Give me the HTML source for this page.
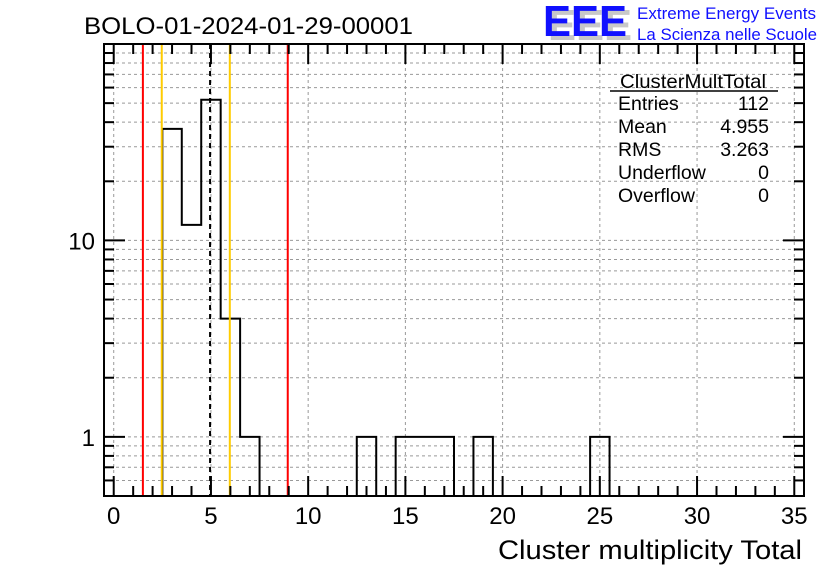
<!DOCTYPE html>
<html><head><meta charset="utf-8"><style>
html,body{margin:0;padding:0;background:#fff;}
svg{display:block;font-family:"Liberation Sans",sans-serif;}
</style></head><body>
<svg id="c" width="836" height="572" viewBox="0 0 836 572">
<text x="84" y="34" font-size="24" textLength="329" lengthAdjust="spacingAndGlyphs">BOLO-01-2024-01-29-00001</text>
<g>
<text x="548" y="40" font-size="44" font-weight="bold" fill="#c8c8c8" textLength="84" lengthAdjust="spacingAndGlyphs">EEE</text>
<text x="543" y="36" font-size="44" font-weight="bold" fill="#1010ff" textLength="84" lengthAdjust="spacingAndGlyphs">EEE</text>
<text x="637" y="19" font-size="16.5" fill="#1010ff" textLength="179" lengthAdjust="spacingAndGlyphs">Extreme Energy Events</text>
<text x="637" y="40" font-size="16.5" fill="#1010ff" textLength="180" lengthAdjust="spacingAndGlyphs">La Scienza nelle Scuole</text>
</g>
<g id="grid"></g>
<g id="marks"></g>
<g id="axes"></g>
<g font-size="19.5">
<text x="620" y="88" textLength="146" lengthAdjust="spacingAndGlyphs">ClusterMultTotal</text>
<line x1="610" y1="91" x2="778" y2="91" stroke="#000" stroke-width="1.5"/>
<text x="618" y="110">Entries</text><text x="769" y="110" text-anchor="end">112</text>
<text x="618" y="133">Mean</text><text x="769" y="133" text-anchor="end">4.955</text>
<text x="618" y="156">RMS</text><text x="769" y="156" text-anchor="end">3.263</text>
<text x="618" y="179">Underflow</text><text x="769" y="179" text-anchor="end">0</text>
<text x="618" y="202">Overflow</text><text x="769" y="202" text-anchor="end">0</text>
</g>
<text x="802" y="559" font-size="27" text-anchor="end" textLength="304" lengthAdjust="spacingAndGlyphs">Cluster multiplicity Total</text>
</svg>
<script>
const binCenters=[3,4,5,6,7,13,15,16,17,19,25];
const binCounts=[37,12,52,4,1,1,1,1,1,1,1];
const xTicks=[0,5,10,15,20,25,30,35];
const yTicks=[1,10];
const redLines=[1.5,8.95];
const orangeLines=[2.47,5.97];
const meanLine=[4.955];
const L=104,R=804,T=44,B=496,X0=-0.5,X1=35.5,Y0=0.5,Y1=100;
const sx=v=>L+(v-X0)/(X1-X0)*(R-L);
const sy=v=>B-(Math.log10(v)-Math.log10(Y0))/(Math.log10(Y1)-Math.log10(Y0))*(B-T);
const NS="http://www.w3.org/2000/svg";
function mk(p,t,a){const e=document.createElementNS(NS,t);for(const k in a)e.setAttribute(k,a[k]);p.appendChild(e);return e;}
const grid=document.getElementById('grid'),marks=document.getElementById('marks'),axes=document.getElementById('axes');
const ylev=[];for(const d of [0.1,1,10]){for(let m=1;m<10;m++){const v=m*d;if(v>=Y0&&v<=Y1)ylev.push(v);}}
ylev.forEach(v=>{const l=mk(grid,'line',{x1:L,x2:R,y1:sy(v),y2:sy(v),stroke:'#999','stroke-dasharray':'3,3','stroke-width':1});

});
xTicks.forEach(v=>{const l=mk(grid,'line',{x1:sx(v),x2:sx(v),y1:T,y2:B,stroke:'#999','stroke-dasharray':'3,3','stroke-width':1});

});
let d=`M${sx(binCenters[0]-0.5)},${B}`;
for(let i=0;i<binCenters.length;i++){
 const a=binCenters[i]-0.5,b=binCenters[i]+0.5;
 if(i>0&&binCenters[i-1]+0.5!==a){d+=` L${sx(a)},${B}`;}
 d+=` L${sx(a)},${sy(binCounts[i])} L${sx(b)},${sy(binCounts[i])}`;
 if(i===binCenters.length-1||binCenters[i+1]-0.5!==b) d+=` L${sx(b)},${B}`;
}
const h=mk(marks,'path',{d:d,fill:'none',stroke:'#000','stroke-width':2});


redLines.forEach(v=>{const l=mk(marks,'line',{x1:sx(v),x2:sx(v),y1:T,y2:B,stroke:'#f00','stroke-width':2});

});
orangeLines.forEach(v=>{const l=mk(marks,'line',{x1:sx(v),x2:sx(v),y1:T,y2:B,stroke:'#fc0','stroke-width':2});

});
meanLine.forEach(v=>{const l=mk(marks,'line',{x1:sx(v),x2:sx(v),y1:T,y2:B,stroke:'#000','stroke-width':2,'stroke-dasharray':'5,4'});

});
const f=mk(axes,'rect',{x:L,y:T,width:R-L,height:B-T,fill:'none',stroke:'#000','stroke-width':2});


for(let v=0;v<=35;v++){const len=v%5===0?20:10;
 mk(axes,'line',{x1:sx(v),x2:sx(v),y1:B,y2:B-len,stroke:'#000','stroke-width':2});
 mk(axes,'line',{x1:sx(v),x2:sx(v),y1:T,y2:T+len,stroke:'#000','stroke-width':2});}
xTicks.forEach(v=>{const t=mk(axes,'text',{x:sx(v),y:524,'font-size':24,'text-anchor':'middle'});t.textContent=v;

});
ylev.forEach(v=>{const len=yTicks.includes(v)?21:10;
 mk(axes,'line',{x1:L,x2:L+len,y1:sy(v),y2:sy(v),stroke:'#000','stroke-width':2});
 mk(axes,'line',{x1:R,x2:R-len,y1:sy(v),y2:sy(v),stroke:'#000','stroke-width':2});});
yTicks.forEach(v=>{const t=mk(axes,'text',{x:95,y:sy(v)+9,'font-size':24,'text-anchor':'end'});t.textContent=v;

});
</script>
</body></html>
